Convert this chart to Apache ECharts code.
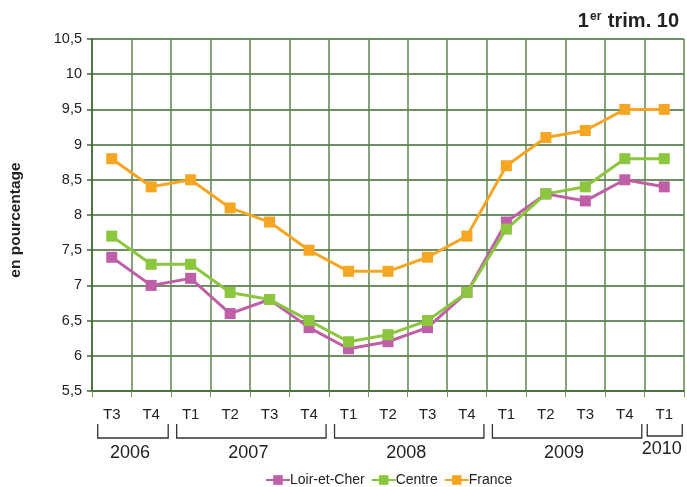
<!DOCTYPE html>
<html><head><meta charset="utf-8">
<script src="https://cdn.jsdelivr.net/npm/echarts@6/dist/echarts.min.js"></script>
<style>html,body{margin:0;padding:0;background:#fff}#c{width:687px;height:487px}</style>
</head><body><div id="c"></div>
<script>
var categories = ['T3','T4','T1','T2','T3','T4','T1','T2','T3','T4','T1','T2','T3','T4','T1'];
var years = ['2006','2007','2008','2009','2010'];
var yearStart = [0, 2, 6, 10, 14];
var yearEnd = [1, 5, 9, 13, 14];
var loirEtCher = [7.4, 7.0, 7.1, 6.6, 6.8, 6.4, 6.1, 6.2, 6.4, 6.9, 7.9, 8.3, 8.2, 8.5, 8.4];
var centre = [7.7, 7.3, 7.3, 6.9, 6.8, 6.5, 6.2, 6.3, 6.5, 6.9, 7.8, 8.3, 8.4, 8.8, 8.8];
var france = [8.8, 8.4, 8.5, 8.1, 7.9, 7.5, 7.2, 7.2, 7.4, 7.7, 8.7, 9.1, 9.2, 9.5, 9.5];

var FONT = 'Liberation Sans, Arial, sans-serif';
var GREEN_DARK = '#3d6a2c';
function mk(name, data, color) {
  return {name: name, type: 'line', data: data, symbol: 'rect', symbolSize: 11,
    lineStyle: {width: 3, color: color}, itemStyle: {color: color}, z: 3};
}
var chart = echarts.init(document.getElementById('c'), null, {renderer: 'canvas'});
chart.setOption({
  animation: false,
  grid: {left: 90, right: 3, top: 39, bottom: 96, containLabel: false},
  title: {
    text: '{a|1}{s|er}{a| trim. 10}', right: 3, top: 6,
    textStyle: {rich: {
      a: {fontFamily: FONT, fontWeight: 'bold', fontSize: 20, color: '#222'},
      s: {fontFamily: FONT, fontWeight: 'bold', fontSize: 12, color: '#222', verticalAlign: 'top', padding: [0,1,9,1]}
    }}
  },
  legend: {
    top: 468, left: 260, itemWidth: 24, itemHeight: 12, itemGap: 6,
    textStyle: {fontFamily: FONT, fontSize: 14, color: '#222', padding: [0,0,0,-5]},
    data: ['Loir-et-Cher', 'Centre', 'France']
  },
  xAxis: {
    type: 'category', data: categories, boundaryGap: true,
    axisLine: {lineStyle: {color: GREEN_DARK, width: 1.5}},
    axisTick: {show: true, length: 6, lineStyle: {color: '#6f8f62', width: 1}},
    axisLabel: {fontFamily: FONT, fontSize: 15, color: '#222', margin: 16},
    splitLine: {show: true, lineStyle: {color: '#5f8552', width: 1.5}}
  },
  yAxis: {
    type: 'value', min: 5.5, max: 10.5, interval: 0.5,
    name: 'en pourcentage', nameLocation: 'middle', nameGap: 68, nameRotate: 90,
    nameTextStyle: {fontFamily: FONT, fontWeight: 'bold', fontSize: 15.5, color: '#222', padding: [0, 10, 0, 0]},
    axisLine: {show: true, lineStyle: {color: GREEN_DARK, width: 1.5}},
    axisTick: {show: true, length: 5, lineStyle: {color: GREEN_DARK, width: 1.5}},
    axisLabel: {fontFamily: FONT, fontSize: 14.5, color: '#222', margin: 10,
      formatter: function (v) { return String(v).replace('.', ','); }},
    splitLine: {show: true, lineStyle: {color: GREEN_DARK, width: 1.5}}
  },
  series: [mk('Loir-et-Cher', loirEtCher, '#bf5fa8'), mk('Centre', centre, '#8cc63e'), mk('France', france, '#f5a623')]
});

// Year brackets below the category labels, positioned from the axis scale
var els = [];
for (var i = 0; i < years.length; i++) {
  var x0 = chart.convertToPixel({xAxisIndex: 0}, yearStart[i]) - 14;
  var x1 = chart.convertToPixel({xAxisIndex: 0}, yearEnd[i]) + 17;
  if (years[i] === '2010') { x0 -= 3; x1 += 1; }
  var yTop = 424, yBot = years[i] === '2010' ? 436 : 438;
  els.push({type: 'polyline', shape: {points: [[x0, yTop], [x0, yBot], [x1, yBot], [x1, yTop]]},
    style: {stroke: '#333', lineWidth: 1.3, fill: null}});
  els.push({type: 'text', x: (x0 + x1) / 2 - 3, y: years[i] === '2010' ? 449 : 453,
    style: {text: years[i], font: '18px ' + FONT, fill: '#222', textAlign: 'center', textVerticalAlign: 'middle'}});
}
chart.setOption({graphic: els});
</script>
</body></html>
